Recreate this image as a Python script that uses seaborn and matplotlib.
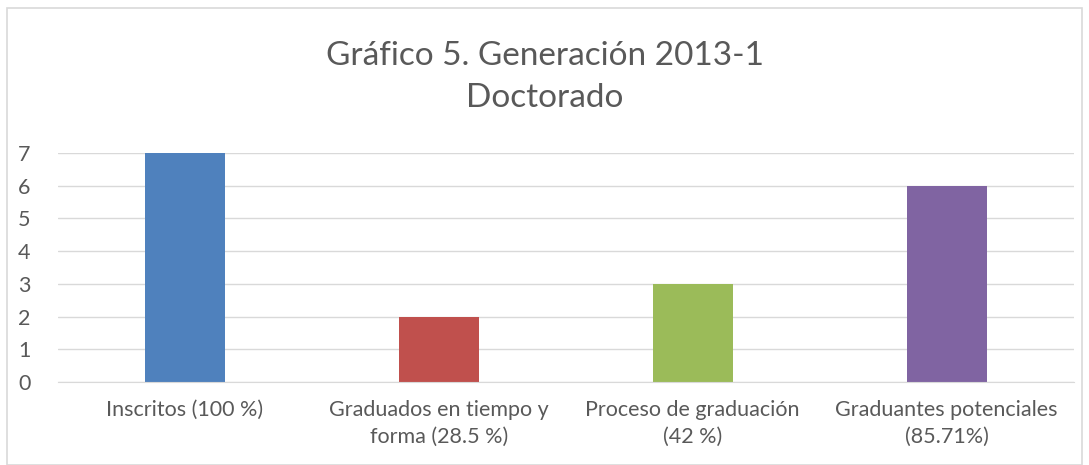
import matplotlib.pyplot as plt
import seaborn as sns
import pandas as pd
from matplotlib.patches import Rectangle

categorias = ['Inscritos (100 %)', 'Graduados en tiempo y\nforma (28.5 %)',
              'Proceso de graduación\n(42 %)', 'Graduantes potenciales\n(85.71%)']
valores = [7, 2, 3, 6]
colores = ['#4F81BD', '#C0504D', '#9BBB59', '#8064A2']

df = pd.DataFrame({'categoria': categorias, 'valor': valores})

sns.set_style('white')
plt.rcParams['font.family'] = ['Lato', 'DejaVu Sans']
gris = '#595959'

fig = plt.figure(figsize=(10.89, 4.65), dpi=100)
ax = fig.add_axes([0.053, 0.1785, 0.933, 0.4925])

sns.barplot(x='categoria', y='valor', data=df, hue='categoria', palette=colores,
            width=0.315, legend=False, ax=ax, saturation=1, linewidth=0)

ax.set_ylim(0, 7)
ax.set_yticks(range(0, 8))
ax.set_xlim(-0.5, 3.5)
ax.yaxis.grid(True, color='#D9D9D9', linewidth=1)
ax.set_axisbelow(True)
for s in ['top', 'right', 'left']:
    ax.spines[s].set_visible(False)
ax.spines['bottom'].set_color('#D9D9D9')
ax.tick_params(axis='both', length=0, labelsize=15.5, colors=gris)
ax.tick_params(axis='x', pad=13)
ax.tick_params(axis='y', pad=24)
ax.set_xlabel('')
ax.set_ylabel('')
for t in ax.get_yticklabels():
    t.set_horizontalalignment('center')
for t in ax.get_xticklabels():
    t.set_linespacing(1.45)

fig.text(0.5, 0.834, 'Gráfico 5. Generación 2013-1\nDoctorado', ha='center', va='center',
         fontsize=24, color=gris, linespacing=1.5)

# borde del gráfico
fig.patches.append(Rectangle((7 / 1089, 0), 1 - 14 / 1089, 1 - 8 / 465, transform=fig.transFigure,
                             fill=False, edgecolor='#D9D9D9', linewidth=1.2))

plt.savefig('out.png', dpi=100)
